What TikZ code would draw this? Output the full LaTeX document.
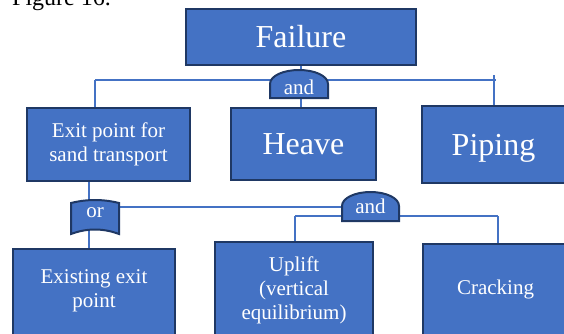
\documentclass[tikz,border=0pt]{standalone}
\usepackage{fontspec}
\setmainfont{Liberation Serif}
\definecolor{boxfill}{HTML}{4472C4}
\definecolor{navy}{HTML}{1F3864}
\definecolor{lineblue}{HTML}{4472C4}
\begin{document}
\begin{tikzpicture}[x=1pt,y=-1pt,
  box/.style={draw=navy, line width=2pt, fill=boxfill, text=white, inner sep=0pt, align=center},
  bigtxt/.style={font=\fontsize{32}{36}\selectfont},
  smalltxt/.style={font=\fontsize{21}{23.5}\selectfont},
  conn/.style={draw=lineblue, line width=1.2pt},
  gateshape/.style={draw=navy, line width=2pt, fill=boxfill},
  gatearea/.style={inner sep=0pt, outer sep=0pt},
  lbl/.style={text=white, inner sep=0pt, align=center, font=\fontsize{21}{24}\selectfont}]
\useasboundingbox (0,0) rectangle (564,333);
\clip (0,0) rectangle (564,333);

% caption fragment
\node[anchor=base west, inner sep=0pt, font=\fontsize{24}{28}\selectfont] (fig) at (12,5) {Figure 16.};

% boxes
\node[box, bigtxt, minimum width=230, minimum height=56] (fail) at (301,37) {Failure};
\node[box, smalltxt, minimum width=163, minimum height=73] (exit) at (108.5,144.5) {Exit point for\\sand transport};
\node[box, bigtxt, minimum width=145, minimum height=72] (heave) at (303.5,144) {Heave};
\node[box, bigtxt, minimum width=143, minimum height=77, text depth=0pt] (piping) at (493.5,144.5) {Piping};
\node[box, anchor=north, minimum width=162, minimum height=120] (exist) at (94,248) {};
\node[box, anchor=north, minimum width=158, minimum height=120] (uplift) at (294,241) {};
\node[box, anchor=north, minimum width=145, minimum height=120] (crack) at (495.5,243) {};
\node[lbl] (existlbl) at (94,291) {Existing exit\\point};
\node[lbl] (upliftlbl) at (294,290) {Uplift\\(vertical\\equilibrium)};
\node[lbl] (cracklbl) at (495.5,289) {Cracking};

% gate areas (for connector anchors)
\node[gatearea, minimum width=58, minimum height=28] (g1) at (299,84) {};
\node[gatearea, minimum width=48, minimum height=34] (orgate) at (95,217) {};
\node[gatearea, minimum width=57, minimum height=29] (g2) at (370.5,206.5) {};

% connectors
\coordinate (hl) at (95,80);
\coordinate (hr) at (496,80);
\coordinate (ptick) at (494,75);
\draw[conn] (fail.south) -- (fail.south |- heave.north);
\draw[conn] (hl) -- (hr);
\draw[conn] (hl) -- (hl |- exit.north);
\draw[conn] (ptick) -- (ptick |- piping.north);
\coordinate (oc) at (89,217);
\draw[conn] (exit.south -| oc) -- (oc |- exist.north);
\coordinate (ol) at (119,207);
\draw[conn] (ol) -- (ol -| g2.west);
\coordinate (ll) at (295,216);
\coordinate (lr) at (498,216);
\draw[conn] (ll) -- (lr);
\draw[conn] (ll) -- (ll |- uplift.north);
\draw[conn] (lr) -- (lr |- crack.north);

% gates
\path[gateshape] (270,98) -- (270,84) .. controls (270,76) and (283,70) .. (299,70) .. controls (315,70) and (328,76) .. (328,84) -- (328,98) -- cycle;
\node[lbl] (g1t) at (299,87) {and};
\path[gateshape] (71,203) .. controls (87,199) and (103,199) .. (119,203) -- (119,234) .. controls (103,228) and (87,228) .. (71,234) -- cycle;
\node[lbl] (ort) at (95,213) {or};
\path[gateshape] (342,221) -- (342,206) .. controls (342,198) and (355,192) .. (370.5,192) .. controls (386,192) and (399,198) .. (399,206) -- (399,221) -- cycle;
\node[lbl] (g2t) at (370.5,206) {and};
\end{tikzpicture}
\end{document}
